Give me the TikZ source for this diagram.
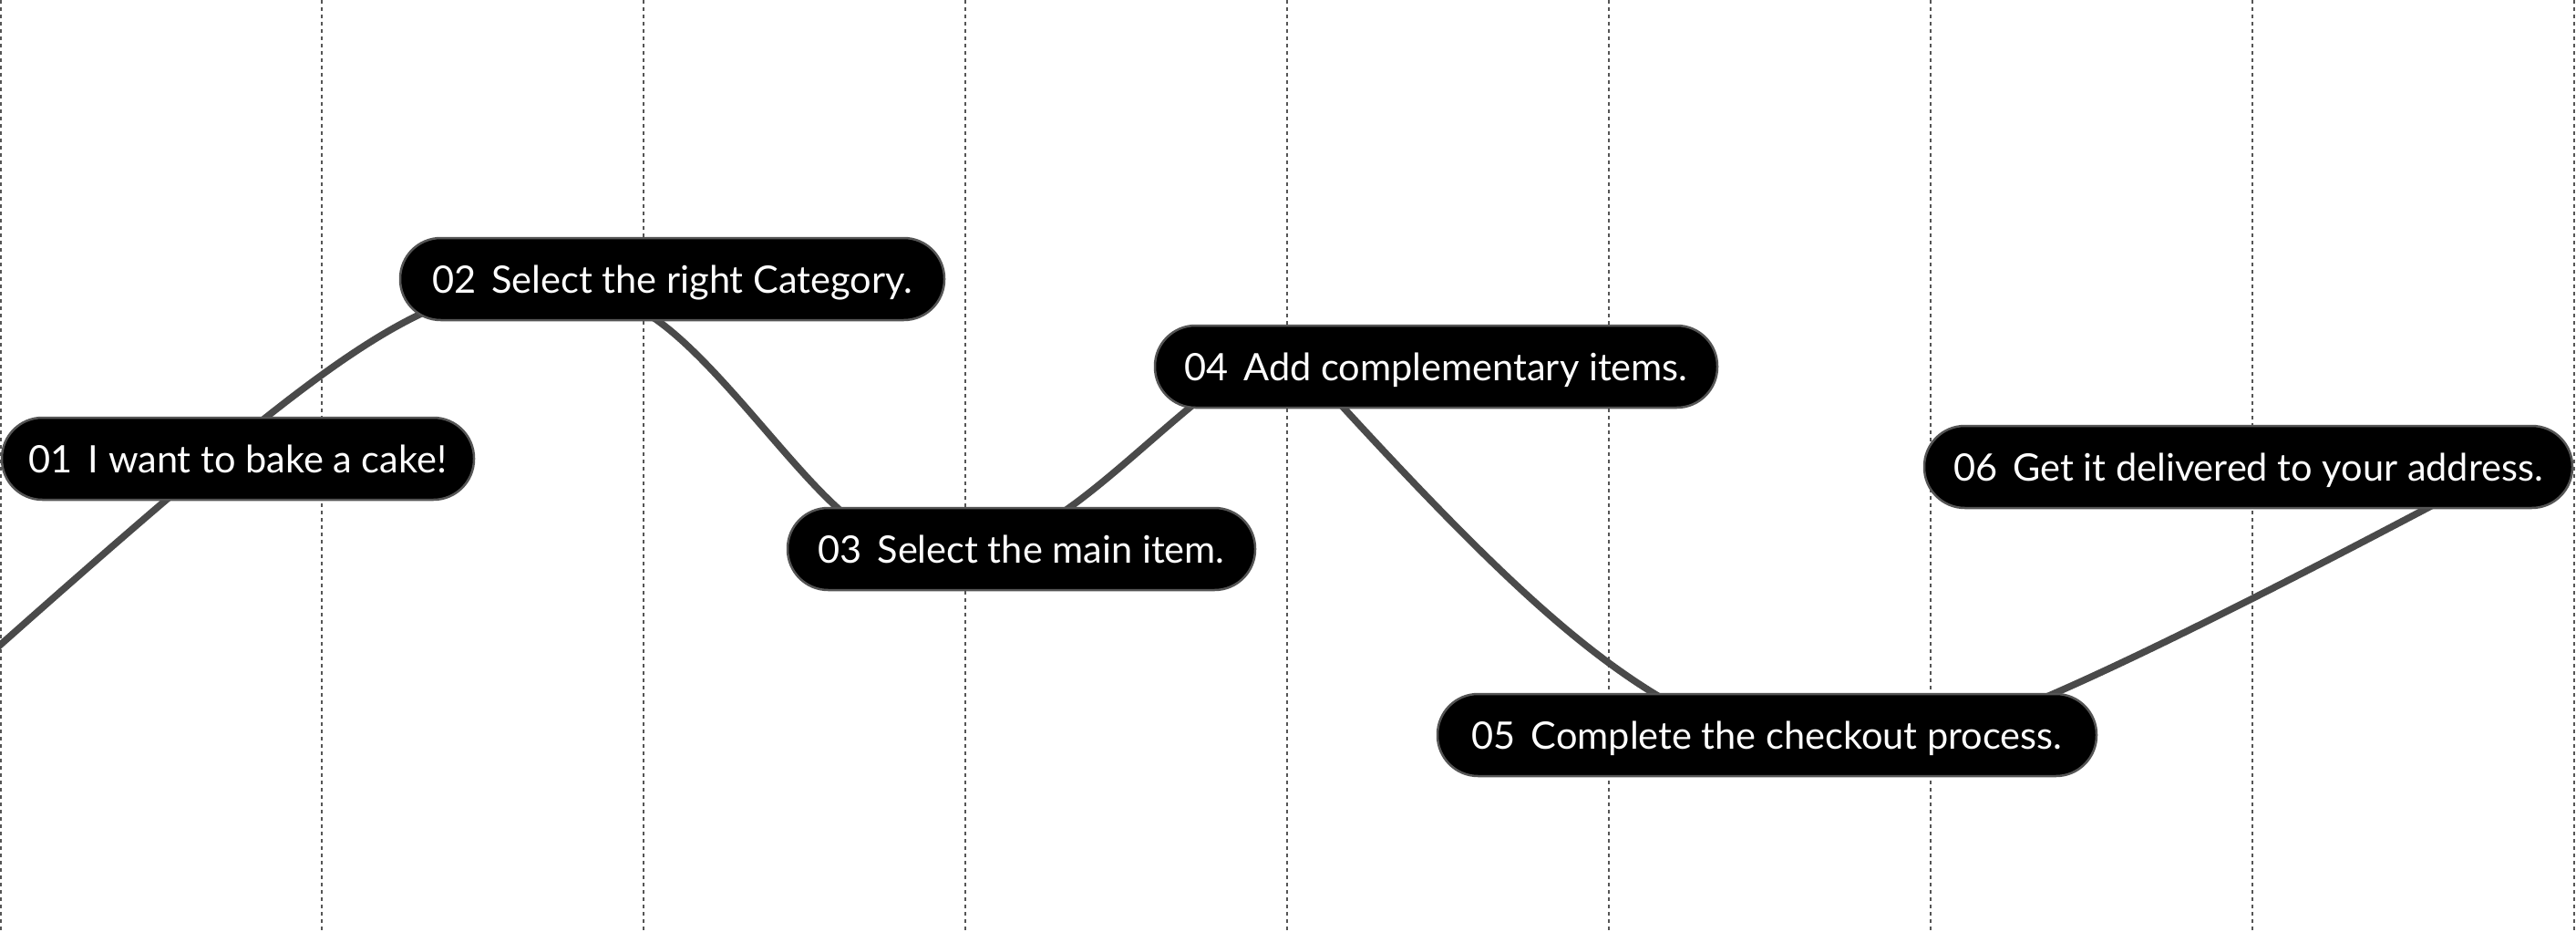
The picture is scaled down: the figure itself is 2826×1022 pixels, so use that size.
\documentclass[tikz,border=0pt]{standalone}
\usepackage{fontspec}
\setmainfont{Lato}
\usetikzlibrary{calc}
\definecolor{gridc}{HTML}{555555}
\definecolor{wavec}{HTML}{4A4A4A}
\definecolor{edgec}{HTML}{555555}
\pgfdeclarelayer{bglayer}
\pgfdeclarelayer{gridlayer}
\pgfdeclarelayer{wavelayer}
\pgfsetlayers{bglayer,gridlayer,wavelayer,main}
\tikzset{
  gridline/.style={draw=gridc, line width=2pt, dash pattern=on 4pt off 4pt},
  wave/.style={draw=wavec, line width=7.5pt},
  stepnode/.style={draw=edgec, line width=2.5pt, fill=black, text=white,
    rounded corners=44.5pt, minimum height=90pt, inner xsep=0pt,
    text height=30pt, text depth=0pt,
    font=\fontsize{41.5pt}{48pt}\selectfont},
}
\newcommand{\stepnum}[2]{#1\hspace{17pt}#2}
\begin{document}
\begin{tikzpicture}[x=1pt, y=-1pt]
\begin{pgfonlayer}{bglayer}
\fill[white] (0,0) rectangle (2826,1022);
\end{pgfonlayer}
\useasboundingbox (0,0) rectangle (2826,1022);
% nodes
\node[stepnode, minimum width=518pt] (n01) at (261,503) {\stepnum{01}{I want to bake a cake!}};
\node[stepnode, minimum width=597pt] (n02) at (737.5,306) {\stepnum{02}{Select the right Category.}};
\node[stepnode, minimum width=513pt] (n03) at (1120.5,602) {\stepnum{03}{Select the main item.}};
\node[stepnode, minimum width=617pt] (n04) at (1575.5,402) {\stepnum{04}{Add complementary items.}};
\node[stepnode, minimum width=723pt] (n05) at (1938.5,806) {\stepnum{05}{Complete the checkout process.}};
\node[stepnode, minimum width=711pt] (n06) at (2466.5,512) {\stepnum{06}{Get it delivered to your address.}};
% grid
\begin{pgfonlayer}{gridlayer}
\foreach \k in {0,...,8}{
  \coordinate (gt\k) at ({max(1,min(2825,353*\k))},0);
  \coordinate (gb\k) at ({max(1,min(2825,353*\k))},1022);
  \draw[gridline] (gt\k) -- (gb\k);
}
\end{pgfonlayer}
% wave: segment ends lie hidden inside the nodes
\coordinate (w0) at (-40,743);
\coordinate (a2) at (560,312);
\coordinate (b2) at (680,330);
\coordinate (b3) at (960,585);
\coordinate (c3) at (1110,592);
\coordinate (c4) at (1340,420);
\coordinate (d4) at (1440,410);
\coordinate (d5) at (1900,805);
\coordinate (e5) at (2150,800);
\coordinate (e6) at (2720,527);
\begin{pgfonlayer}{wavelayer}
\draw[wave] (w0) .. controls (343,402) and (433,337) .. (a2);
\draw[wave] (b2) .. controls (770,355) and (890,560) .. (b3);
\draw[wave] (c3) .. controls (1180,568) and (1272,468) .. (c4);
\draw[wave] (d4) .. controls (1671,664) and (1770,748) .. (d5);
\draw[wave] (e5) .. controls (2265,768) and (2595,593) .. (e6);
\end{pgfonlayer}
\end{tikzpicture}
\end{document}
